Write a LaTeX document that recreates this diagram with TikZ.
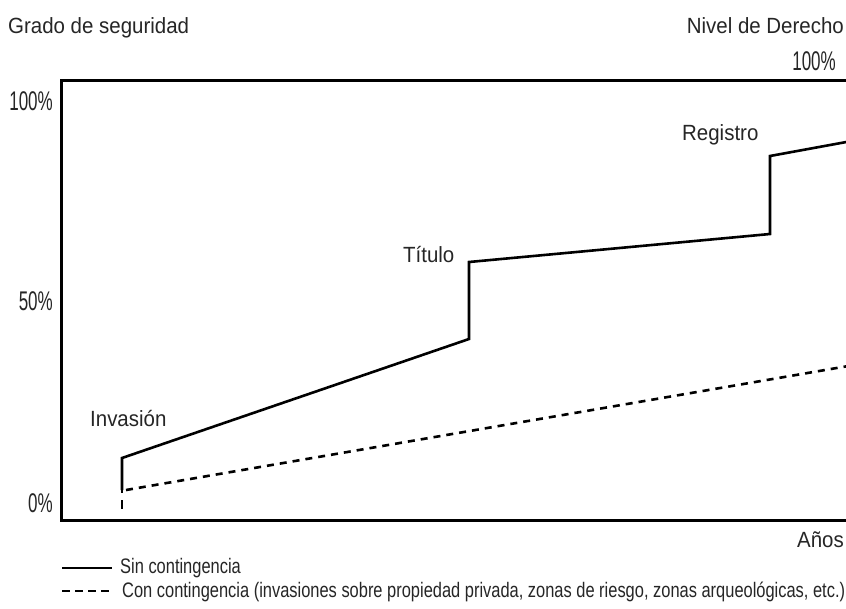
\documentclass[tikz,border=0pt]{standalone}
\usepackage{fontspec}
\setmainfont{Liberation Sans}
\newfontfamily\labf[FakeStretch=0.93]{Liberation Sans}
\newfontfamily\numf[FakeStretch=0.63]{Liberation Sans}
\newfontfamily\legf[FakeStretch=0.783]{Liberation Sans}
\tikzset{
  axisline/.style={line width=3pt, line cap=rect},
  solidline/.style={line width=2.6pt, line join=miter},
  dashline/.style={line width=2.6pt, dash pattern=on 7pt off 6pt},
  lab/.style={inner sep=0pt, text=black!85, font=\labf\fontsize{22}{25}\selectfont},
  num/.style={inner sep=0pt, text=black!85, font=\numf\fontsize{27}{30}\selectfont},
  leg/.style={inner sep=0pt, text=black!85, font=\legf\fontsize{21}{24}\selectfont}
}
\begin{document}
\begin{tikzpicture}[x=1pt,y=-1pt]
\useasboundingbox (0,0) rectangle (846,608);
\clip (0,0) rectangle (846,608);
\fill[white] (0,0) rectangle (846,608);
% axes
\coordinate (tr) at (860,80);
\coordinate (tl) at (61,80);
\coordinate (bl) at (61,520);
\coordinate (br) at (860,520);
\draw[axisline] (tr) -- (tl) -- (bl) -- (br);
% data points
\coordinate (a0) at (122,520);
\coordinate (a1) at (122,490);
\coordinate (a2) at (122,458);
\coordinate (a3) at (469,339);
\coordinate (a4) at (469,262);
\coordinate (a5) at (770,234);
\coordinate (a6) at (770,156);
\coordinate (a7) at (860,139.5);
\coordinate (d1) at (126,490);
\coordinate (d2) at (860,364);
\draw[solidline] (a1) -- (a2) -- (a3) -- (a4) -- (a5) -- (a6) -- (a7);
\draw[dashline] (d1) -- (d2);
\draw[line width=2.6pt, dash pattern=on 3pt off 7pt on 9pt off 20pt] (a1) -- (a0);
% labels
\node[lab, anchor=base west] (ylab) at (8,33) {Grado de seguridad};
\node[lab, anchor=base east] (rlab) at (844,33) {Nivel de Derecho};
\node[num, anchor=base east] (r100) at (836,70) {100\%};
\node[num, anchor=base east] (l100) at (53,110) {100\%};
\node[num, anchor=base east] (l50) at (53,310) {50\%};
\node[num, anchor=base east] (l0) at (53,512) {0\%};
\node[lab, anchor=base west] (inv) at (90,426) {Invasión};
\node[lab, anchor=base west] (tit) at (403,262) {Título};
\node[lab, anchor=base west] (reg) at (682,140) {Registro};
\node[lab, anchor=base east] (anos) at (844,547) {Años};
% legend
\coordinate (ls1) at (62,568);
\coordinate (ls2) at (112,568);
\coordinate (ld1) at (62,591);
\coordinate (ld2) at (112,591);
\draw[line width=2.6pt] (ls1) -- (ls2);
\draw[line width=2.6pt, dash pattern=on 8pt off 5pt] (ld1) -- (ld2);
\node[leg, anchor=base west] (leg1) at (120,573) {Sin contingencia};
\node[leg, anchor=base west] (leg2) at (122,597) {Con contingencia (invasiones sobre propiedad privada, zonas de riesgo, zonas arqueológicas, etc.)};
\end{tikzpicture}
\end{document}
